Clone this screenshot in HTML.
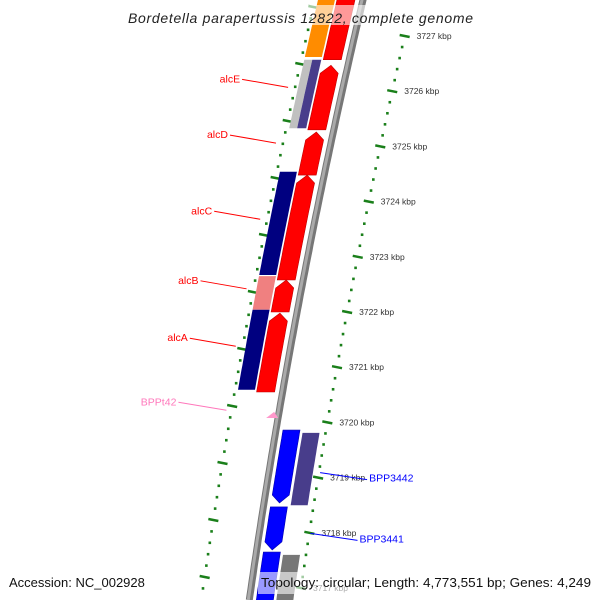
<!DOCTYPE html>
<html><head><meta charset="utf-8"><style>
html,body{margin:0;padding:0;background:#fff;width:600px;height:600px;overflow:hidden;}
svg{display:block;font-family:"Liberation Sans","DejaVu Sans",sans-serif;}
</style></head><body>
<svg id="map" width="600" height="600" viewBox="0 0 600 600" xmlns="http://www.w3.org/2000/svg">
<g id="rulers"></g>
<g id="feats"></g>
<g id="labels"></g>
<rect x="120" y="5" width="360" height="20" fill="#fff" fill-opacity="0.6"/>
<text x="128" y="23" font-size="14" font-style="italic" fill="#222" textLength="345" lengthAdjust="spacing">Bordetella parapertussis 12822, complete genome</text>
<rect x="258" y="572" width="338" height="22" fill="#fff" fill-opacity="0.6"/>
<text x="9" y="587" font-size="13" fill="#111">Accession: NC_002928</text>
<text x="261" y="587" font-size="13" fill="#111" textLength="330" lengthAdjust="spacingAndGlyphs">Topology: circular; Length: 4,773,551 bp; Genes: 4,249</text>
</svg>
<script>
// data (kbp)
const tickKbp = [3727,3726,3725,3724,3723,3722,3721,3720,3719,3718,3717];
const fwdStarts = [3726.57,3725.30,3724.48,3722.58,3722.00,3720.55];
const fwdEnds   = [3727.80,3726.47,3725.26,3724.48,3722.58,3721.98];
const fwdArrow  = [false,true,true,true,true,true];
const fwd2Starts = [3726.62,3725.33,3725.33,3722.67,3722.04,3720.59];
const fwd2Ends   = [3727.80,3726.57,3726.57,3724.54,3722.65,3722.04];
const fwd2Colors = ['#ff8c00','#c0c0c0','#483d8b','#000080','#f08080','#000080'];
const fwd2Half   = [0,1,2,0,0,0];
const revStarts = [3718.54,3717.69,3716.60];
const revEnds   = [3719.86,3718.47,3717.65];
const revArrow  = [true,true,false];
const rev2Starts = [3718.50,3716.60];
const rev2Ends   = [3719.81,3717.60];
const rev2Colors = ['#483d8b','#777777'];
const trnaPos = [3720.19,3720.08];
const geneLabels = ['alcE','alcD','alcC','alcB','alcA','BPPt42','BPP3442','BPP3441'];
const geneLabelPos = [3726.07,3725.06,3723.68,3722.42,3721.38,3720.22,3719.00,3717.90];

const NS='http://www.w3.org/2000/svg';
function yOf(p){return 36+(3727-p)*55.2;}
function bx(y){return 363-0.191*y-7.5e-5*y*(580-y);}
function el(tag,attrs,parent){const e=document.createElementNS(NS,tag);for(const k in attrs)e.setAttribute(k,attrs[k]);parent.appendChild(e);return e;}
function band(yTop,yBot,o1,o2,tipTop,tipBot){
  const step=4;const L=[],R=[];
  const a=tipTop?yTop+8:yTop, b=tipBot?yBot-8:yBot;
  for(let y=a;y<=b;y+=step){L.push([bx(y)+o1,y]);R.push([bx(y)+o2,y]);}
  L.push([bx(b)+o1,b]);R.push([bx(b)+o2,b]);
  let poly=[];
  if(tipTop) poly.push([bx(yTop)+(o1+o2)/2,yTop]);
  poly=poly.concat(R);
  if(tipBot) poly.push([bx(yBot)+(o1+o2)/2,yBot]);
  poly=poly.concat(L.reverse());
  return poly.map(p=>p[0].toFixed(1)+','+p[1].toFixed(1)).join(' ');
}
const rul=document.getElementById('rulers'),fg=document.getElementById('feats'),lg=document.getElementById('labels');
{const y0=-5,y1=600;let d='';for(let y=y0;y<=y1;y+=5)d+=(y===y0?'M':'L')+bx(y).toFixed(1)+','+y;
const bb=el('path',{d:d,stroke:'#777',"stroke-width":7,fill:'none'},fg);


const bb2=el('path',{d:d,stroke:'#aaa',"stroke-width":3,fill:'none',transform:'translate(-1,0)'},fg);

}
for(let i=0;i<tickKbp.length;i++){
  for(let s=0;s<5;s++){
    const p=tickKbp[i]-s*0.2;const y=yOf(p);if(y>598)continue;const x=bx(y)+50;
    if(s===0){
      const t=el('line',{x1:x-5,y1:y-1,x2:x+5,y2:y+1,stroke:'#1a7f1a',"stroke-width":2.5},rul);
      
      
      const lb=el('text',{x:x+12,y:y+3,"font-size":8.5,fill:'#333'},rul);lb.textContent=tickKbp[i]+' kbp';
      
      
    } else {
      const d=el('rect',{x:x-1.3,y:y-1.3,width:2.6,height:2.6,fill:'#1a7f1a'},rul);
      
      
    }
  }
}
for(let k=-1;k<12;k++){for(let s=0;s<5;s++){
  const y=7+57*k+s*11.4;if(y<-5||y>598)continue;const x=bx(y)-48;
  if(s===0){const t=el('line',{x1:x-5,y1:y-1,x2:x+5,y2:y+1,stroke:'#1a7f1a',"stroke-width":2.5},rul);
    
    }
  else{const d=el('rect',{x:x-1.3,y:y-1.3,width:2.6,height:2.6,fill:'#1a7f1a'},rul);
    
    }
}}
for(let i=0;i<fwdStarts.length;i++){
  const pg=el('polygon',{points:band(yOf(fwdEnds[i]),yOf(fwdStarts[i]),-26,-8,fwdArrow[i],false),fill:'#ff0000',stroke:'#c00000',"stroke-width":0.6},fg);
  
  
}
for(let i=0;i<fwd2Starts.length;i++){
  const o1=fwd2Half[i]===2?-37:-45,o2=fwd2Half[i]===1?-37:-28;
  const pg=el('polygon',{points:band(yOf(fwd2Ends[i]),yOf(fwd2Starts[i]),o1,o2,false,false),fill:fwd2Colors[i]},fg);
  
  
}
{const y1=yOf(trnaPos[0]),y2=yOf(trnaPos[1]);const x=bx(y1);
const t=el('polygon',{points:`${x-13},${y2} ${x-1},${y2} ${x-5},${y1}`,fill:'#ff99cc'},fg);

}
for(let i=0;i<revStarts.length;i++){
  const pg=el('polygon',{points:band(yOf(revEnds[i]),yOf(revStarts[i]),7,24,false,revArrow[i]),fill:'#0000ff',stroke:'#0000b0',"stroke-width":0.6},fg);
  
  
}
for(let i=0;i<rev2Starts.length;i++){
  const pg=el('polygon',{points:band(yOf(rev2Ends[i]),yOf(rev2Starts[i]),27,44,false,false),fill:rev2Colors[i]},fg);
  
  
}
for(let i=0;i<geneLabels.length;i++){
  const y=yOf(geneLabelPos[i]);
  let col='#ff0000',tx,ty,lx1,ly1,lx2,ly2,anchor='end';
  if(i<5){lx2=bx(y)-55;ly2=y;lx1=lx2-46;ly1=y-8;tx=lx1-2;ty=ly1+3;}
  else if(i===5){col='#ff77bb';lx2=bx(y)-53;ly2=y;lx1=lx2-48;ly1=y-8;tx=lx1-2;ty=ly1+3;}
  else {col='#0000ff';lx1=bx(y)+52;ly1=y-5;lx2=lx1+47;ly2=y+2;tx=lx2+2;ty=ly2+2;anchor='start';}
  const ln=el('line',{x1:lx1,y1:ly1,x2:lx2,y2:ly2,stroke:col,"stroke-width":1},lg);
  
  
  const t=el('text',{x:tx,y:ty,"font-size":10.5,fill:col,"text-anchor":anchor},lg);t.textContent=geneLabels[i];
  
  
}
</script>
</body></html>
